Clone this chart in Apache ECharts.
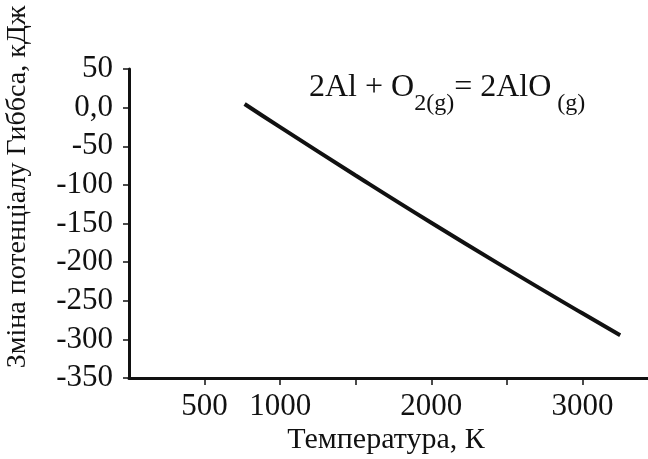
<!DOCTYPE html>
<html>
<head>
<meta charset="utf-8">
<script src="https://cdn.jsdelivr.net/npm/echarts@6/dist/echarts.min.js"></script>
<style>
html,body{margin:0;padding:0;background:#fff;}
#chart{width:648px;height:459px;}
</style>
</head>
<body>
<div id="chart"></div>
<script>
// Data
const temperatures = [765, 1000, 1500, 2000, 2500, 3000, 3250];
const gibbsChange = [4.7, -25.3, -87.8, -149, -208.4, -266.3, -294.6];
const xTickValues = [500, 1000, 1500, 2000, 2500, 3000];
const xTickLabels = [500, 1000, 2000, 3000];
const yMin = -350, yMax = 50, yStep = 50;
const xMin = 0, xMax = 3434, xStep = 500;
const xTitle = 'Температура, К';
const yTitle = 'Зміна потенціалу Гиббса, кДж';

const FONT = '"Liberation Serif", "Times New Roman", serif';
const chart = echarts.init(document.getElementById('chart'), null, {renderer: 'canvas'});
const seriesData = temperatures.map((t, i) => [t, gibbsChange[i]]);

chart.setOption({
  animation: false,
  backgroundColor: '#fff',
  grid: {left: 129, right: 0, top: 69, bottom: 81, containLabel: false},
  xAxis: {
    type: 'value', min: xMin, max: xMax, interval: xStep,
    axisLine: {show: true, onZero: false, lineStyle: {color: '#111', width: 3}},
    axisTick: {show: true, length: 7, customValues: xTickValues, lineStyle: {color: '#111', width: 1.5}},
    splitLine: {show: false},
    axisLabel: {
      color: '#111', fontFamily: FONT, fontSize: 31, margin: 13,
      customValues: xTickLabels,
      formatter: v => String(v)
    }
  },
  yAxis: {
    type: 'value', min: yMin, max: yMax, interval: yStep,
    axisLine: {show: true, onZero: false, lineStyle: {color: '#111', width: 3}},
    axisTick: {show: true, length: 6, lineStyle: {color: '#111', width: 1.5}},
    splitLine: {show: false},
    axisLabel: {
      color: '#111', fontFamily: FONT, fontSize: 31, margin: 16,
      formatter: v => v === 0 ? '0,0' : String(v)
    }
  },
  series: [{
    type: 'line', data: seriesData, smooth: true, showSymbol: false,
    lineStyle: {color: '#111', width: 4, cap: 'butt'}
  }],
  graphic: [
    {
      type: 'text', x: 386, y: 440,
      style: {text: xTitle, align: 'center', verticalAlign: 'middle',
        fontFamily: FONT, fontSize: 30, fill: '#111'}
    },
    {
      type: 'text', x: 18, y: 187, rotation: Math.PI / 2,
      style: {text: yTitle, align: 'center', verticalAlign: 'middle',
        fontFamily: FONT, fontSize: 28, fill: '#111'}
    },
    {
      type: 'text', x: 309, y: 72,
      style: {
        text: '{m|2Al + O}{s|2(g)}{m|= 2AlO}{s| (g)}',
        fontFamily: FONT, fill: '#111',
        rich: {
          m: {fontFamily: FONT, fontSize: 32, lineHeight: 34, verticalAlign: 'top', fill: '#111'},
          s: {fontFamily: FONT, fontSize: 24, lineHeight: 24, padding: [20, 0, 0, 0], verticalAlign: 'top', fill: '#111'}
        }
      }
    }
  ]
});
</script>
</body>
</html>
